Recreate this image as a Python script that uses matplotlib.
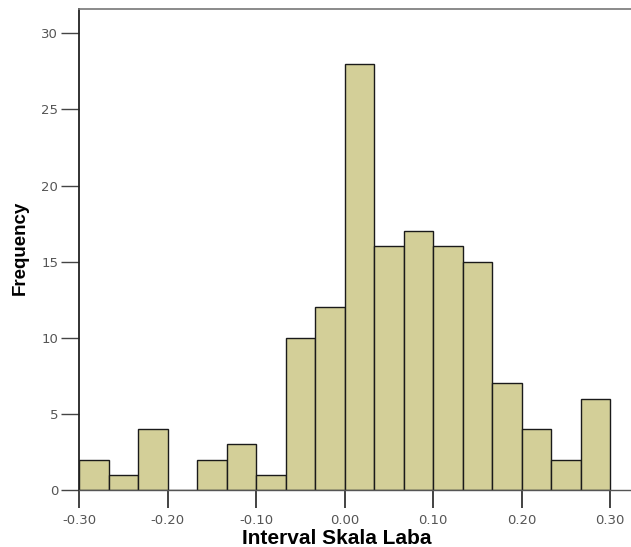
import numpy as np
import matplotlib
matplotlib.use('Agg')
import matplotlib.pyplot as plt

# histogram counts, bins of width 1/30 from -0.30 to 0.30
bin_start = -0.30
bin_width = 1 / 30
counts = [2, 1, 4, 0, 2, 3, 1, 10, 12, 28, 16, 17, 16, 15, 7, 4, 2, 6]
xticks = [-0.30, -0.20, -0.10, 0.00, 0.10, 0.20, 0.30]
xtick_labels = ['-0.30', '-0.20', '-0.10', '0.00', '0.10', '0.20', '0.30']
yticks = [0, 5, 10, 15, 20, 25, 30]

plt.rcParams['font.family'] = ['DejaVu Sans']

fig = plt.figure(figsize=(6.31, 5.47), dpi=100)
ax = fig.add_axes([79 / 631, 1 - 490 / 547, 1 - 79 / 631, (490 - 9) / 547])

lefts = bin_start + bin_width * np.arange(len(counts))
ax.bar(lefts, counts, width=bin_width, align='edge', color='#d3cf98',
       edgecolor='#1a1a1a', linewidth=1.0, zorder=2)

ax.set_xlim(-0.30, 0.3237)
ax.set_ylim(0, 31.6)
ax.set_xticks(xticks)
ax.set_xticklabels(xtick_labels)
ax.set_yticks(yticks)

ax.tick_params(axis='x', direction='out', length=13, width=1.2, color='#222222',
               labelsize=9.5, labelcolor='#555555', pad=4)
ax.tick_params(axis='y', direction='out', length=13, width=1.0, color='#444444',
               labelsize=9.5, labelcolor='#555555', pad=2)

ax.spines['right'].set_visible(False)
ax.spines['left'].set_color('#222222')
ax.spines['left'].set_linewidth(1.3)
ax.spines['bottom'].set_color('#555555')
ax.spines['bottom'].set_linewidth(1.0)
ax.spines['top'].set_color('#777777')
ax.spines['top'].set_linewidth(1.2)

ax.set_ylabel('Frequency', fontsize=13.5, fontweight='bold',
              family=['Liberation Sans', 'DejaVu Sans'], va='center')
ax.yaxis.set_label_coords(-0.107, 0.503)
ax.set_xlabel('Interval Skala Laba', fontsize=15, fontweight='bold',
              family=['Liberation Sans', 'DejaVu Sans'], va='top')
ax.xaxis.set_label_coords(0.467, -0.082)

fig.savefig('out.png', dpi=100)
